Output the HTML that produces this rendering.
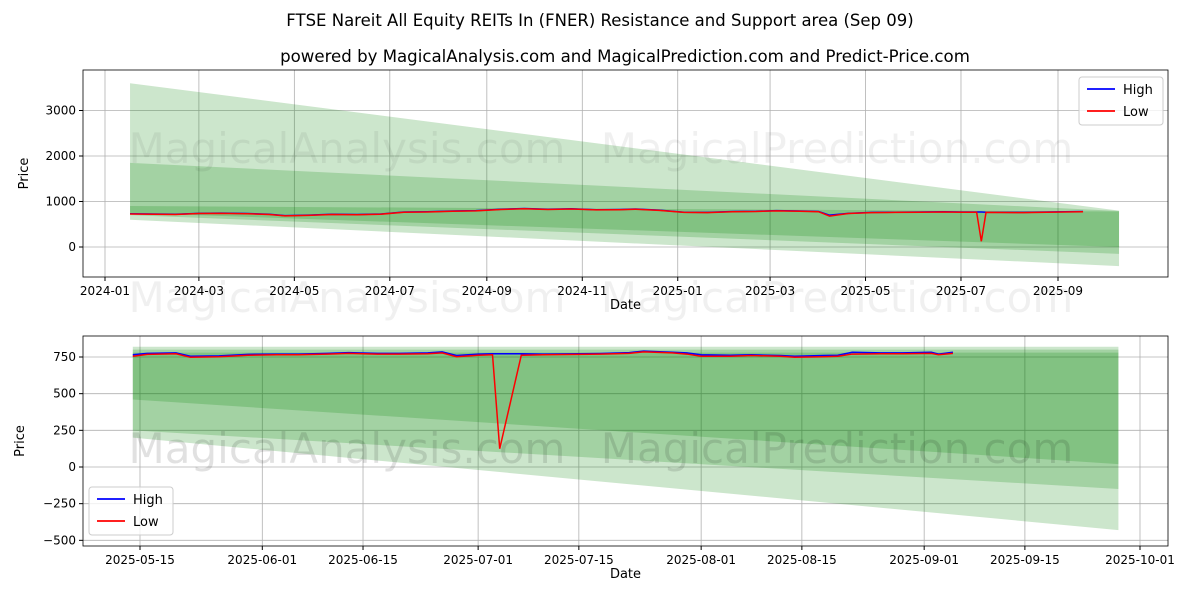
<!DOCTYPE html>
<html><head><meta charset="utf-8"><style>
body{margin:0;background:#fff;font-family:"Liberation Sans","DejaVu Sans",sans-serif}
svg text{font-family:"DejaVu Sans","Liberation Sans",sans-serif}
</style></head><body>
<svg id="c" width="1200" height="600" xmlns="http://www.w3.org/2000/svg">
<rect width="1200" height="600" fill="#fff"/>
<text x="600" y="26" font-size="16.5" text-anchor="middle">FTSE Nareit All Equity REITs In (FNER) Resistance and Support area (Sep 09)</text>
<text x="625" y="62" font-size="16.6" text-anchor="middle">powered by MagicalAnalysis.com and MagicalPrediction.com and Predict-Price.com</text>
</svg>
<script>
// ---- top chart data ----
const topDates=["2024-01-17","2024-02-01","2024-02-15","2024-03-01","2024-03-15","2024-04-01","2024-04-15","2024-04-25","2024-05-10","2024-05-25","2024-06-10","2024-06-25","2024-07-10","2024-07-25","2024-08-10","2024-08-25","2024-09-10","2024-09-25","2024-10-10","2024-10-25","2024-11-10","2024-11-25","2024-12-05","2024-12-20","2025-01-05","2025-01-20","2025-02-05","2025-02-20","2025-03-05","2025-03-20","2025-04-01","2025-04-08","2025-04-20","2025-05-05","2025-05-20","2025-06-05","2025-06-20","2025-07-01","2025-07-11","2025-07-14","2025-07-17","2025-08-10","2025-08-25","2025-09-17"];
const topHigh=[730,725,720,740,745,735,720,690,700,720,715,725,770,775,790,800,830,845,830,840,820,825,835,810,765,760,780,785,800,790,780,700,740,760,765,770,775,770,770,770,765,760,770,780];
const topLow=[725,720,715,735,740,730,715,685,695,715,710,720,765,770,785,795,825,840,825,835,815,820,830,805,760,755,775,780,795,785,775,680,735,755,760,765,770,765,765,125,760,755,765,775];
const topBandStart="2024-01-17", topBandEnd="2025-10-10";
const topBandTop=[[3600,800],[1850,790],[900,780]];
const topBandBot=[[600,-420],[700,-150],[750,0]];
const topYTicks=[0,1000,2000,3000];
const topXTicks=["2024-01","2024-03","2024-05","2024-07","2024-09","2024-11","2025-01","2025-03","2025-05","2025-07","2025-09"];
// ---- bottom chart data ----
const botDates=["2025-05-14","2025-05-16","2025-05-20","2025-05-22","2025-05-26","2025-05-30","2025-06-03","2025-06-06","2025-06-10","2025-06-13","2025-06-17","2025-06-20","2025-06-24","2025-06-26","2025-06-28","2025-07-01","2025-07-03","2025-07-04","2025-07-07","2025-07-10","2025-07-15","2025-07-18","2025-07-22","2025-07-24","2025-07-28","2025-07-30","2025-08-01","2025-08-05","2025-08-08","2025-08-12","2025-08-14","2025-08-18","2025-08-20","2025-08-22","2025-08-26","2025-08-29","2025-09-02","2025-09-03","2025-09-05"];
const botHigh=[765,775,778,755,758,768,770,770,775,780,775,775,778,785,760,770,772,772,772,770,772,774,780,790,782,778,765,762,765,760,755,760,762,782,778,778,782,770,782];
const botLow=[755,768,772,748,752,762,765,765,770,775,770,770,772,778,752,762,765,125,762,765,768,770,775,785,778,770,755,755,760,755,748,752,755,770,772,772,775,765,775];
const botBandStart="2025-05-14", botBandEnd="2025-09-28";
const botBandTop=[[820,820],[800,800],[780,780]];
const botBandBot=[[200,-430],[250,-150],[460,20]];
const botYTicks=[-500,-250,0,250,500,750];
const botXTicks=["2025-05-15","2025-06-01","2025-06-15","2025-07-01","2025-07-15","2025-08-01","2025-08-15","2025-09-01","2025-09-15","2025-10-01"];

const NS="http://www.w3.org/2000/svg", svg=document.getElementById('c');
function el(t,a,p){const e=document.createElementNS(NS,t);for(const k in a)e.setAttribute(k,a[k]);(p||svg).appendChild(e);return e;}
function day(s){if(s.length===7)s+="-01";return Date.parse(s)/86400000;}

function chart(o){
  const g=el('g',{});
  
  
  const X=d=>o.x0+(day(d)-day(o.d0))*(o.x1-o.x0)/(day(o.d1)-day(o.d0));
  const Y=v=>o.y0+(v-o.v0)*(o.y1-o.y0)/(o.v1-o.v0);
  o.yt.forEach(v=>{const l=el('line',{x1:o.L,x2:o.R,y1:Y(v),y2:Y(v),stroke:'#b0b0b0','stroke-width':0.8},g);
    
    el('line',{x1:o.L-4,x2:o.L,y1:Y(v),y2:Y(v),stroke:'#000'},g);
    const t=el('text',{x:o.L-7,y:Y(v)+4,'font-size':12,'text-anchor':'end'},g);t.textContent=v===0?'0':(v<0?'\u2212'+(-v):v);
    });
  o.xt.forEach(d=>{const x=X(d);const l=el('line',{x1:x,x2:x,y1:o.T,y2:o.B,stroke:'#b0b0b0','stroke-width':0.8},g);
    
    el('line',{x1:x,x2:x,y1:o.B,y2:o.B+4,stroke:'#000'},g);
    const t=el('text',{x:x,y:o.B+18,'font-size':12,'text-anchor':'middle'},g);t.textContent=d;
    });
  o.bt.forEach((tp,i)=>{const bt=o.bb[i];
    const p=el('polygon',{points:`${X(o.bs)},${Y(tp[0])} ${X(o.be)},${Y(tp[1])} ${X(o.be)},${Y(bt[1])} ${X(o.bs)},${Y(bt[0])}`,fill:'green','fill-opacity':0.2},g);
    });
  [[347,o.wm1],[837,o.wm1],[347,o.wm2],[837,o.wm2]].forEach((w,i)=>{
    const t=el('text',{x:w[0],y:w[1],'font-size':42,fill:'#000','fill-opacity':0.06,'text-anchor':'middle'},g);
    t.textContent=i%2?'MagicalPrediction.com':'MagicalAnalysis.com';
    });
  [[o.h,'blue','high-line'],[o.lo,'red','low-line']].forEach(s=>{
    const p=el('polyline',{points:s[0].map((v,i)=>X(o.dates[i])+','+Y(v)).join(' '),fill:'none',stroke:s[1],'stroke-width':1.5},g);
    });
  const f=el('rect',{x:o.L,y:o.T,width:o.R-o.L,height:o.B-o.T,fill:'none',stroke:'#000','stroke-width':0.8},g);
  
  let t=el('text',{x:(o.L+o.R)/2,y:o.B+32,'font-size':13,'text-anchor':'middle'},g);t.textContent='Date';
  
  const yc=(o.T+o.B)/2;
  t=el('text',{x:o.yl,y:yc,'font-size':13,'text-anchor':'middle',transform:`rotate(-90 ${o.yl} ${yc})`},g);t.textContent='Price';
  
  const lg=el('g',{},g);
  
  el('rect',{x:o.lx,y:o.ly,width:84,height:48,rx:3,fill:'#fff','fill-opacity':0.8,stroke:'#ccc'},lg);
  [['High','blue'],['Low','red']].forEach((e,i)=>{const yy=o.ly+12+i*22;
    el('line',{x1:o.lx+8,x2:o.lx+36,y1:yy,y2:yy,stroke:e[1],'stroke-width':1.8},lg);
    const tt=el('text',{x:o.lx+44,y:yy+5,'font-size':13},lg);tt.textContent=e[0];
    });
}
chart({name:'top-chart',L:83,R:1168,T:70,B:277,x0:105,x1:1058,d0:'2024-01-01',d1:'2025-09-01',y0:247,y1:201.5,v0:0,v1:1000,
  yt:topYTicks,xt:topXTicks,bs:topBandStart,be:topBandEnd,bt:topBandTop,bb:topBandBot,dates:topDates,h:topHigh,lo:topLow,
  yl:28,lx:1079,ly:77,wm1:163,wm2:312});
chart({name:'bottom-chart',L:83,R:1168,T:336,B:546,x0:140,x1:1140,d0:'2025-05-15',d1:'2025-10-01',y0:467,y1:357,v0:0,v1:750,
  yt:botYTicks,xt:botXTicks,bs:botBandStart,be:botBandEnd,bt:botBandTop,bb:botBandBot,dates:botDates,h:botHigh,lo:botLow,
  yl:24,lx:89,ly:487,wm1:463,wm2:463});
</script>
</body></html>
